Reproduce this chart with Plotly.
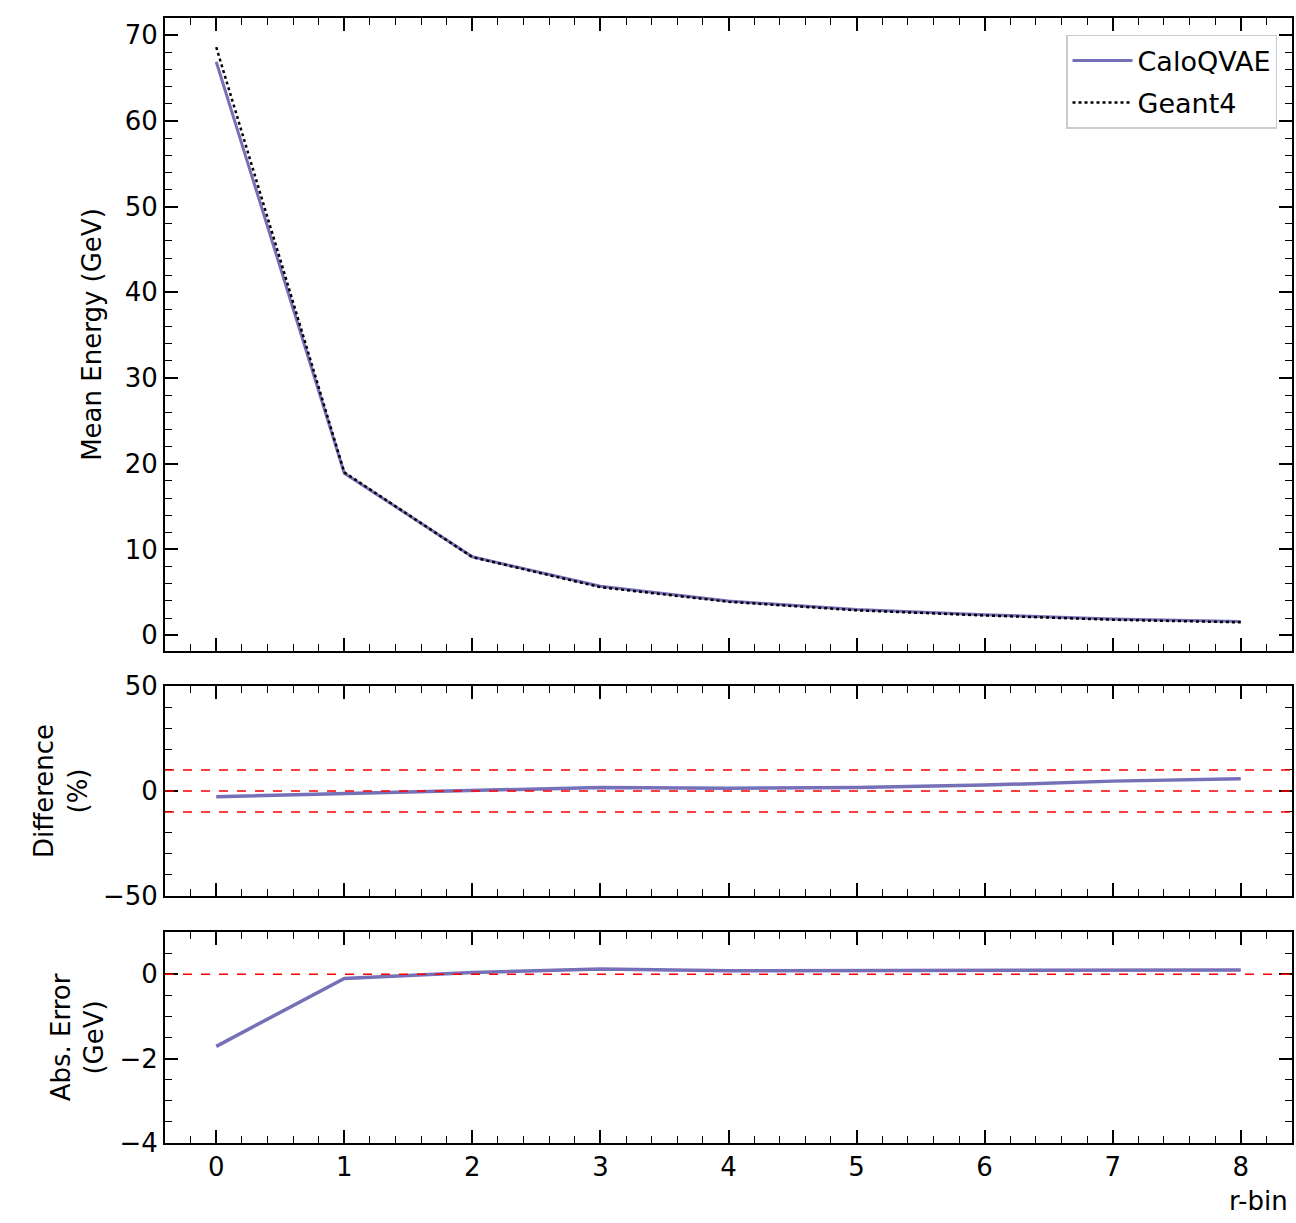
import plotly.graph_objects as go
from plotly.subplots import make_subplots

r_bins = [0, 1, 2, 3, 4, 5, 6, 7, 8]
geant4 = [68.6, 19.0, 9.1, 5.6, 3.9, 2.9, 2.3, 1.8, 1.5]
caloqvae = [66.9, 18.9, 9.14, 5.72, 3.98, 2.99, 2.39, 1.9, 1.6]
difference_pct = [-2.7, -1.1, 0.2, 1.7, 1.3, 1.7, 2.8, 4.7, 5.8]
abs_error = [-1.71, -0.1, 0.04, 0.12, 0.08, 0.09, 0.09, 0.1, 0.1]

x_ticks = [0, 1, 2, 3, 4, 5, 6, 7, 8]

LINE_COL = "#7570b8"
FONT = "DejaVu Sans"
FS = 26

fig = make_subplots(rows=3, cols=1, shared_xaxes=True)

fig.add_trace(go.Scatter(x=r_bins, y=caloqvae, mode="lines", name="CaloQVAE",
                         legendgroup="a",
                         line=dict(color=LINE_COL, width=3)), row=1, col=1)
fig.add_trace(go.Scatter(x=r_bins, y=geant4, mode="lines", name="Geant4",
                         legendgroup="b",
                         line=dict(color="black", width=2.5, dash="dot")), row=1, col=1)
fig.add_trace(go.Scatter(x=r_bins, y=difference_pct, mode="lines", showlegend=False,
                         line=dict(color=LINE_COL, width=3.5)), row=2, col=1)
fig.add_trace(go.Scatter(x=r_bins, y=abs_error, mode="lines", showlegend=False,
                         line=dict(color=LINE_COL, width=3.5)), row=3, col=1)

# reference lines
for yv in [10, 0, -10]:
    fig.add_hline(y=yv, line=dict(color="red", width=1.5, dash="dash"), row=2, col=1)
fig.add_hline(y=0, line=dict(color="red", width=1.5, dash="dash"), row=3, col=1)

axis_common = dict(
    showline=True, linecolor="black", linewidth=2, mirror="allticks",
    ticks="inside", ticklen=13, tickwidth=1.6, tickcolor="black",
    showgrid=False, zeroline=False,
    tickfont=dict(family=FONT, size=FS, color="black"),
)
minor_common = dict(ticks="inside", ticklen=7, tickwidth=1.3, tickcolor="black")

y_domains = [[0.4373, 1.0], [0.2196, 0.4062], [0.0, 0.1876]]
for i, dom in enumerate(y_domains, start=1):
    fig.update_xaxes(**axis_common, range=[-0.4, 8.4], tickvals=x_ticks,
                     minor=dict(**minor_common, dtick=0.2),
                     showticklabels=(i == 3), row=i, col=1)
    fig.update_yaxes(domain=dom, row=i, col=1)

fig.update_yaxes(**axis_common, range=[-1.85, 72.0], tickvals=[0, 10, 20, 30, 40, 50, 60, 70],
                 minor=dict(**minor_common, dtick=2),
                 title=dict(text="Mean Energy (GeV)", font=dict(family=FONT, size=FS, color="black"), standoff=16),
                 row=1, col=1)
fig.update_yaxes(**axis_common, range=[-50, 50], tickvals=[-50, 0, 50],
                 ticktext=["\u221250", "0", "50"],
                 minor=dict(**minor_common, dtick=10),
                 title=dict(text="Difference<br>(%)", font=dict(family=FONT, size=FS, color="black"), standoff=8),
                 row=2, col=1)
fig.update_yaxes(**axis_common, range=[-4, 1], tickvals=[-4, -2, 0],
                 ticktext=["\u22124", "\u22122", "0"],
                 minor=dict(**minor_common, dtick=0.5),
                 title=dict(text="Abs. Error<br>(GeV)", font=dict(family=FONT, size=FS, color="black"), standoff=8),
                 row=3, col=1)

fig.add_annotation(text="r-bin", xref="paper", yref="paper", x=0.998, y=-0.036,
                   xanchor="right", yanchor="top", showarrow=False,
                   font=dict(family=FONT, size=FS, color="black"))

fig.update_layout(
    width=1296, height=1223,
    margin=dict(l=165, r=2, t=18, b=80),
    plot_bgcolor="white", paper_bgcolor="white",
    font=dict(family=FONT, size=FS, color="black"),
    legend=dict(x=0.9867, y=0.985, xanchor="right", yanchor="top",
                bgcolor="rgba(255,255,255,0.9)", bordercolor="#cccccc", borderwidth=1.5,
                font=dict(family=FONT, size=27, color="black"),
                tracegroupgap=4, itemwidth=60),
)

fig.write_html("out.html", config={"displayModeBar": False},
               post_script="document.body.style.margin='0px';document.body.style.padding='0px';document.body.style.overflow='hidden';")
